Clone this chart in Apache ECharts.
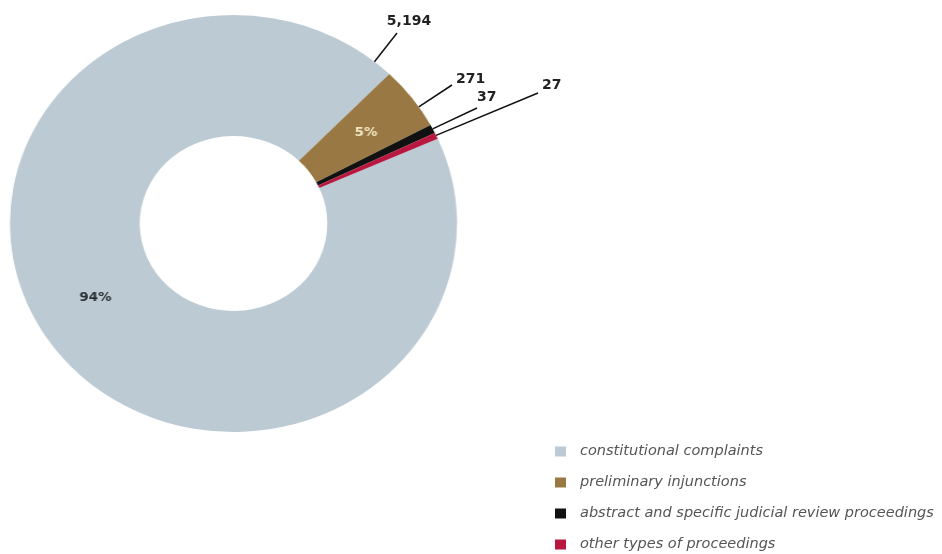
<!DOCTYPE html>
<html>
<head>
<meta charset="utf-8">
<script src="https://cdn.jsdelivr.net/npm/echarts@6/dist/echarts.min.js"></script>
<style>
html,body{margin:0;padding:0;background:#fff;}
#wrap{position:relative;width:942px;height:554px;overflow:hidden;}
#pie{position:absolute;left:0;top:0;width:879px;height:554px;transform:scaleX(1.072);transform-origin:0 0;}
#chart{position:absolute;left:0;top:0;width:942px;height:554px;}
</style>
</head>
<body>
<div id="wrap">
  <div id="pie"></div>
  <div id="chart"></div>
</div>
<script>
const categories = [
  'constitutional complaints',
  'preliminary injunctions',
  'abstract and specific judicial review proceedings',
  'other types of proceedings'
];
const values = [5194, 271, 37, 27];
const valueLabels = ['5,194', '271', '37', '27'];
const percentLabels = ['94%', '5%', '', ''];
const colors = ['#bccad4', '#9a7843', '#111111', '#b8183f'];

// geometry (the reference donut is slightly wider than tall)
const SX = 1.072;
const CX = 233.5, CY = 223.5, RY_IN = 87.5, RY_OUT = 208.5;
const START = 24;

// leader-line annotations: anchor angle on outer rim, line end, label anchor
const leader = [
  {ang: 50.9, end: [397, 33], lx: 409, ly: 21, align: 'center'},
  {ang: 34.0, end: [452, 85], lx: 456, ly: 79, align: 'left'},
  {ang: 27.0, end: [477, 108], lx: 477, ly: 97, align: 'left'},
  {ang: 25.0, end: [538, 93], lx: 542, ly: 85, align: 'left'}
];

const pieChart = echarts.init(document.getElementById('pie'));
pieChart.setOption({
  animation: false,
  series: [{
    type: 'pie',
    center: [CX / SX, CY],
    radius: [RY_IN, RY_OUT],
    startAngle: START,
    clockwise: true,
    avoidLabelOverlap: false,
    silent: true,
    data: categories.map((c, i) => ({
      name: c, value: values[i], itemStyle: {color: colors[i]},
      label: i === 1 ? {color: '#f2e8c4'} : undefined
    })),
    label: {
      show: true,
      position: 'inside',
      fontFamily: 'DejaVu Sans',
      fontWeight: 'bold',
      fontSize: 12.5,
      formatter: p => percentLabels[p.dataIndex],
      color: '#2a2f33'
    },
    labelLayout: p => (p.dataIndex === 0 ? {dx: -5, dy: -12} : {dx: 3, dy: 0}),
    labelLine: {show: false},
    emphasis: {disabled: true}
  }]
});

const chart = echarts.init(document.getElementById('chart'));
chart.setOption({
  animation: false,
  legend: {
    orient: 'vertical',
    left: 555,
    top: 444,
    height: 140,
    padding: 0,
    itemWidth: 11,
    itemHeight: 10,
    itemGap: 16,
    icon: 'rect',
    textStyle: {fontFamily: 'DejaVu Sans', fontStyle: 'italic', fontSize: 14.5, color: '#555555', padding: [0, 0, 0, 9]},
    data: categories.map((c, i) => ({name: c, itemStyle: {color: colors[i]}}))
  },
  series: [{
    type: 'pie',
    center: [CX, CY],
    radius: [RY_IN, RY_OUT],
    startAngle: START,
    clockwise: true,
    avoidLabelOverlap: false,
    silent: true,
    legendHoverLink: false,
    data: categories.map((c, i) => ({name: c, value: values[i], itemStyle: {color: 'rgba(0,0,0,0)'}})),
    label: {
      show: true,
      position: 'outside',
      fontFamily: 'DejaVu Sans',
      fontWeight: 'bold',
      fontSize: 14,
      color: '#222222',
      formatter: p => valueLabels[p.dataIndex]
    },
    labelLine: {show: true, lineStyle: {color: '#111111', width: 1.5}},
    labelLayout: function (params) {
      const L = leader[params.dataIndex];
      const a = L.ang * Math.PI / 180;
      const sx = CX + SX * RY_OUT * Math.cos(a), sy = CY - RY_OUT * Math.sin(a);
      return {
        x: L.lx, y: L.ly, align: L.align, verticalAlign: 'middle',
        labelLinePoints: [[sx, sy], L.end, L.end]
      };
    },
    emphasis: {disabled: true}
  }]
});
</script>
</body>
</html>
